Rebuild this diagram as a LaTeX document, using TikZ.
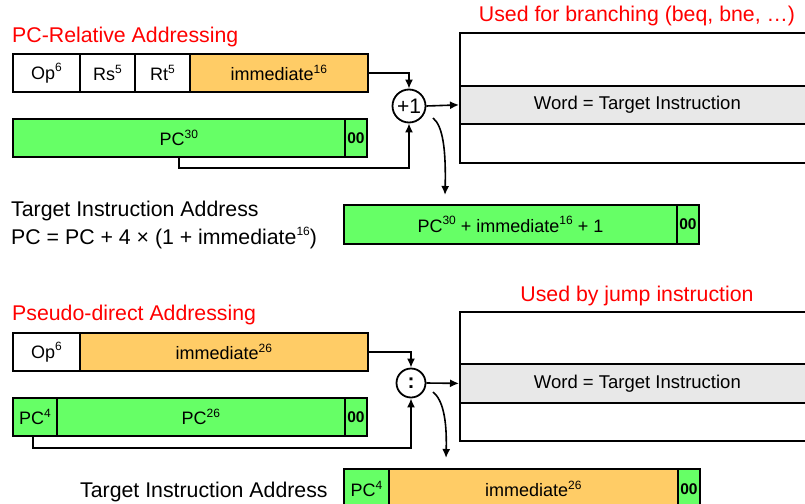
\documentclass[tikz,border=0pt]{standalone}
\usepackage{fontspec}
\setmainfont{Liberation Sans}
\usetikzlibrary{arrows.meta}
\definecolor{fgreen}{HTML}{66FF66}
\definecolor{forange}{HTML}{FFCC66}
\definecolor{fgrey}{HTML}{E8E8E8}
\definecolor{fred}{HTML}{FF0000}
\newcommand{\sups}[1]{\raisebox{0.42em}{\fontsize{12}{12}\selectfont #1}}
\begin{document}
\begin{tikzpicture}[x=1pt,y=-1pt,
  fld/.style={draw=black, line width=1.8pt, inner sep=0pt, anchor=north west,
    minimum height=38pt, font=\fontsize{18}{20}\selectfont},
  zz/.style={fld, fill=fgreen, minimum width=22pt, font=\fontsize{15.5}{16}\selectfont\bfseries},
  opc/.style={draw=black, line width=1.8pt, circle, inner sep=0pt, font=\fontsize{21}{22}\selectfont},
  lbl/.style={anchor=base west, inner sep=0pt, font=\fontsize{21.3}{24}\selectfont},
  ttl/.style={anchor=base, inner sep=0pt, text=fred, font=\fontsize{21.3}{24}\selectfont},
  conn/.style={line width=1.6pt, -{Latex[length=9pt,width=8pt]}},
  mem/.style={draw=black, line width=1.8pt, anchor=north west, inner sep=0pt},
  row/.style={draw=black, line width=1.8pt, fill=fgrey, anchor=north west, inner sep=0pt,
    font=\fontsize{18.5}{20}\selectfont}
]
\useasboundingbox (0,0) rectangle (805,503);
\clip (0,0) rectangle (805,503);

% ---------------- PC-relative ----------------
\node[lbl, text=fred] (t1) at (12,42) {PC-Relative Addressing};
\node[ttl] (u1) at (637,22) {Used for branching (beq, bne, …)};

\node[fld, minimum width=67pt] (op1) at (12,53) {Op\sups{6}};
\node[fld, minimum width=55pt] (rs1) at (79,53) {Rs\sups{5}};
\node[fld, minimum width=55pt] (rt1) at (134,53) {Rt\sups{5}};
\node[fld, fill=forange, minimum width=178pt] (im1) at (189,53) {immediate\sups{16}};

\node[fld, fill=fgreen, minimum width=332pt] (pc1) at (12,118) {PC\sups{30}};
\node[zz] (z1) at (344,118) {00};

\node[opc, minimum size=33pt] (add) at (409,106) {+1};

\node[mem, minimum width=380pt, minimum height=130pt] (m1) at (459,32) {};
\node[row, minimum width=380pt, minimum height=38pt] (w1) at (459,85) {\hspace*{-25pt}Word = Target Instruction};

\node[fld, fill=fgreen, minimum width=333pt, minimum height=39pt] (r1) at (343,204) {PC\sups{30} + immediate\sups{16} + 1};
\node[zz, minimum height=39pt] (rz1) at (676,204) {00};

\node[lbl] (a1) at (11,216) {Target Instruction Address};
\node[lbl] (a2) at (11,244) {PC = PC + 4 × (1 + immediate\sups{16})};

\draw[conn] (im1.east) -| (add.north);
\coordinate (b1) at (179,168);
\draw[conn] (pc1.south -| b1) -- (b1) -| (add.south);
\draw[conn] (add.east) -- (w1.west -| m1.west);
\coordinate (c1s) at (433,118);
\coordinate (c1e) at (445,195);
\draw[conn] (c1s) .. controls (443,126) and (446,150) .. (c1e);

% ---------------- Pseudo-direct ----------------
\node[lbl, text=fred] (t2) at (12,320) {Pseudo-direct Addressing};
\node[ttl] (u2) at (637,301) {Used by jump instruction};

\node[fld, minimum width=67pt] (op2) at (12,332) {Op\sups{6}};
\node[fld, fill=forange, minimum width=288pt] (im2) at (79,332) {immediate\sups{26}};

\node[fld, fill=fgreen, minimum width=44pt] (pc4) at (12,397) {PC\sups{4}};
\node[fld, fill=fgreen, minimum width=288pt] (pc26) at (56,397) {PC\sups{26}};
\node[zz] (z2) at (344,397) {00};

\node[opc, minimum size=29pt, font=\fontsize{21}{22}\selectfont\bfseries] (cat) at (411,383) {:};

\node[mem, minimum width=380pt, minimum height=129pt] (m2) at (459,311) {};
\node[row, minimum width=380pt, minimum height=39pt] (w2) at (459,363) {\hspace*{-25pt}Word = Target Instruction};

\node[fld, fill=fgreen, minimum width=45pt, minimum height=40pt] (r2a) at (343,468) {PC\sups{4}};
\node[fld, fill=forange, minimum width=289pt, minimum height=40pt] (r2b) at (388,468) {immediate\sups{26}};
\node[zz, minimum height=40pt] (rz2) at (677,468) {00};

\node[lbl] (a3) at (80,497) {Target Instruction Address};

\draw[conn] (im2.east) -| (cat.north);
\coordinate (b2) at (33,448);
\draw[conn] (pc4.south -| b2) -- (b2) -| (cat.south);
\draw[conn] (cat.east) -- (w2.west -| m2.west);
\coordinate (c2s) at (433,392);
\coordinate (c2e) at (446,458);
\draw[conn] (c2s) .. controls (443,400) and (447,420) .. (c2e);
\end{tikzpicture}
\end{document}
